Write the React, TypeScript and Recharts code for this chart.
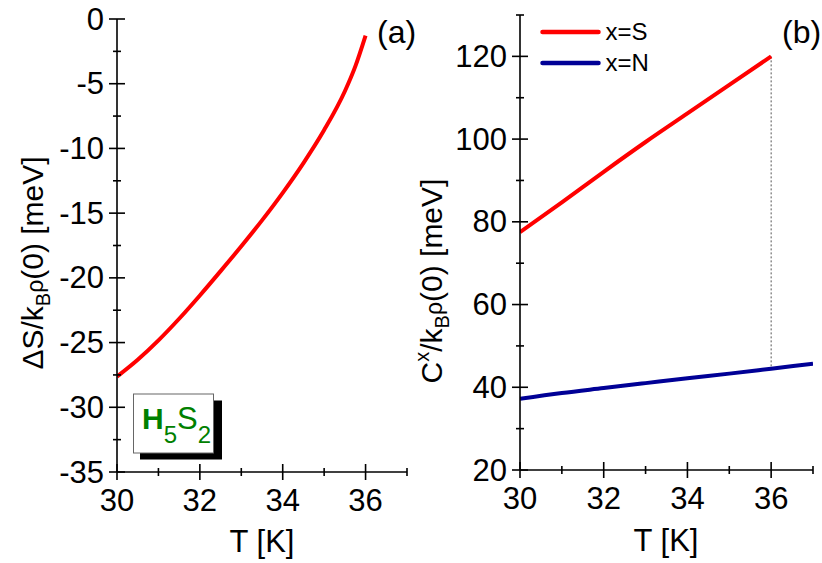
import React from 'react';
import { LineChart, Line, XAxis, YAxis, ReferenceLine, Legend } from 'recharts';

// ── Data ──────────────────────────────────────────────────────────────────

// panel (a): ΔS / kBρ(0) vs T
const tempA = [30, 30.5, 31, 31.5, 32, 32.5, 33, 33.5, 34, 34.5, 35, 35.5, 35.75, 36];
const deltaS = [-27.63, -26.33, -24.83, -23.16, -21.36, -19.48, -17.56, -15.56, -13.43, -11.13, -8.58, -5.58, -3.68, -1.28];

// panel (b): C^x / kBρ(0) vs T
const tempS = [30, 31, 32, 33, 34, 35, 36];
const condS = [77.5, 84.7, 92.1, 99.3, 106.2, 113.1, 120];

const tempN = [30, 31, 32, 33, 34, 35, 36, 37];
const condN = [37.2, 38.6, 39.8, 41.0, 42.2, 43.3, 44.5, 45.7];

const legendNames = ['x=S', 'x=N'];

const xTicks = [30, 31, 32, 33, 34, 35, 36, 37];
const yTicksA = [-35, -32.5, -30, -27.5, -25, -22.5, -20, -17.5, -15, -12.5, -10, -7.5, -5, -2.5, 0];
const yTicksB = [20, 30, 40, 50, 60, 70, 80, 90, 100, 110, 120, 130];

const seriesA = tempA.map((t, i) => ({ t, v: deltaS[i] }));
const seriesS = tempS.map((t, i) => ({ t, v: condS[i] }));
const seriesN = tempN.map((t, i) => ({ t, v: condN[i] }));

// ── Styles ────────────────────────────────────────────────────────────────

const FONT = '"Liberation Sans", Arial, Helvetica, sans-serif';
const RED = '#ff0000';
const BLUE = '#000096';
const AX = { stroke: '#000', strokeWidth: 1.6 };

// tick marks cross the axis line; only the majors get a label
function makeXTick(isMajor: (v: number) => boolean) {
  return (props: any) => {
    const { x, y, payload } = props;
    const v = payload.value as number;
    const major = isMajor(v);
    const h = major ? 8 : 4;
    return (
      <g>
        <line x1={x} x2={x} y1={y - h} y2={y + h} {...AX} />
        {major && (
          <text x={x} y={y + 39} textAnchor="middle" fontSize={31} fontFamily={FONT} fill="#000">
            {v}
          </text>
        )}
      </g>
    );
  };
}

function makeYTick(isMajor: (v: number) => boolean) {
  return (props: any) => {
    const { x, y, payload } = props;
    const v = payload.value as number;
    const major = isMajor(v);
    const h = major ? 8 : 4;
    return (
      <g>
        <line x1={x - h} x2={x + h} y1={y} y2={y} {...AX} />
        {major && (
          <text x={x - 13} y={y + 10.5} textAnchor="end" fontSize={31} fontFamily={FONT} fill="#000">
            {v}
          </text>
        )}
      </g>
    );
  };
}

const XTick = makeXTick((v) => v % 2 === 0);
const YTickA = makeYTick((v) => v % 5 === 0);
const YTickB = makeYTick((v) => v % 20 === 0);

const axisCommon = {
  tickLine: false as const,
  tickSize: 0,
  tickMargin: 0,
  axisLine: AX,
  interval: 0 as const,
  allowDataOverflow: true,
};

// ── Legend ────────────────────────────────────────────────────────────────

function LegendBox({ payload }: any) {
  const items = legendNames
    .map((n) => (payload ?? []).find((p: any) => p.value === n))
    .filter(Boolean);
  return (
    <div style={{ fontFamily: FONT, color: '#000' }}>
      {items.map((p: any) => (
        <div key={p.value} style={{ display: 'flex', alignItems: 'center', height: 31.6 }}>
          <svg width={62} height={8} style={{ display: 'block' }}>
            <line x1={2.5} x2={58.5} y1={4} y2={4} stroke={p.color} strokeWidth={4.5} strokeLinecap="round" />
          </svg>
          <span style={{ marginLeft: 4, lineHeight: 1, fontSize: 24, fontFamily: FONT }}>{p.value}</span>
        </div>
      ))}
    </div>
  );
}

// ── App ───────────────────────────────────────────────────────────────────

export default function App() {
  const dropT = tempS[tempS.length - 1];
  const dropTop = condS[condS.length - 1];
  const dropBottom = condN[tempN.indexOf(dropT)];

  return (
    <div style={{ position: 'absolute', left: 0, top: 0, width: 822, height: 563, background: '#fff', fontFamily: FONT }}>
      {/* (a) */}
      <div style={{ position: 'absolute', left: 0, top: 0 }}>
        <LineChart width={420} height={563} margin={{ top: 19, right: 13, bottom: 61, left: 57 }}>
          <XAxis dataKey="t" type="number" domain={[30, 37]} ticks={xTicks} tick={XTick} height={30} {...axisCommon} />
          <YAxis type="number" domain={[-35, 0]} ticks={yTicksA} tick={YTickA} width={60} {...axisCommon} />
          <Line data={seriesA} dataKey="v" type="monotone" stroke={RED} strokeWidth={4} dot={false} isAnimationActive={false} />
        </LineChart>
      </div>

      {/* (b) */}
      <div style={{ position: 'absolute', left: 420, top: 0 }}>
        <LineChart width={402} height={563} margin={{ top: 15, right: 9, bottom: 63, left: 40 }}>
          <XAxis dataKey="t" type="number" domain={[30, 37]} ticks={xTicks} tick={XTick} height={30} {...axisCommon} />
          <YAxis type="number" domain={[20, 130]} ticks={yTicksB} tick={YTickB} width={60} {...axisCommon} />
          <ReferenceLine
            segment={[{ x: dropT, y: dropTop }, { x: dropT, y: dropBottom }]}
            stroke="#555"
            strokeWidth={1}
            strokeDasharray="2 2"
          />
          <Line data={seriesS} dataKey="v" name="x=S" type="monotone" stroke={RED} strokeWidth={4} dot={false} isAnimationActive={false} />
          <Line data={seriesN} dataKey="v" name="x=N" type="monotone" stroke={BLUE} strokeWidth={4} dot={false} isAnimationActive={false} />
          <Legend
            layout="vertical"
            align="center"
            verticalAlign="middle"
            content={LegendBox}
            wrapperStyle={{ left: 119.5, top: 16, width: 160, height: 64 }}
          />
        </LineChart>
      </div>

      {/* titles, panel letters, compound tag */}
      <svg width={822} height={563} style={{ position: 'absolute', left: 0, top: 0, pointerEvents: 'none' }} fontFamily={FONT}>
        <text x={262} y={552} textAnchor="middle" fontSize={31} fill="#000">T [K]</text>
        <text x={666} y={551} textAnchor="middle" fontSize={31} fill="#000">T [K]</text>

        <text transform="translate(43,263) rotate(-90)" textAnchor="middle" fontSize={30} fill="#000">
          ΔS/k<tspan fontSize={20} dy={7}>B</tspan>
          <tspan fontSize={23} dy={-7}>ρ</tspan>(0) [meV]
        </text>
        <text transform="translate(442,281) rotate(-90)" textAnchor="middle" fontSize={30} fill="#000">
          C<tspan fontSize={20} dy={-13}>x</tspan>
          <tspan dy={13}>/k</tspan>
          <tspan fontSize={20} dy={7}>B</tspan>
          <tspan fontSize={23} dy={-7}>ρ</tspan>(0) [meV]
        </text>

        <text x={377} y={43} fontSize={32} fill="#000">(a)</text>
        <text x={782} y={43} fontSize={32} fill="#000">(b)</text>

        <rect x={140} y={400.5} width={82} height={59} fill="#000" />
        <rect x={133.5} y={394} width={80} height={59} fill="#fff" stroke="#666" strokeWidth={1} />
        <text x={142} y={428.5} fill="#008000" fontSize={30}>
          <tspan fontWeight="bold">H</tspan>
          <tspan fontSize={24} dy={14}>5</tspan>
          <tspan fontSize={31} dy={-14}>S</tspan>
          <tspan fontSize={24} dy={14}>2</tspan>
        </text>
      </svg>
    </div>
  );
}
